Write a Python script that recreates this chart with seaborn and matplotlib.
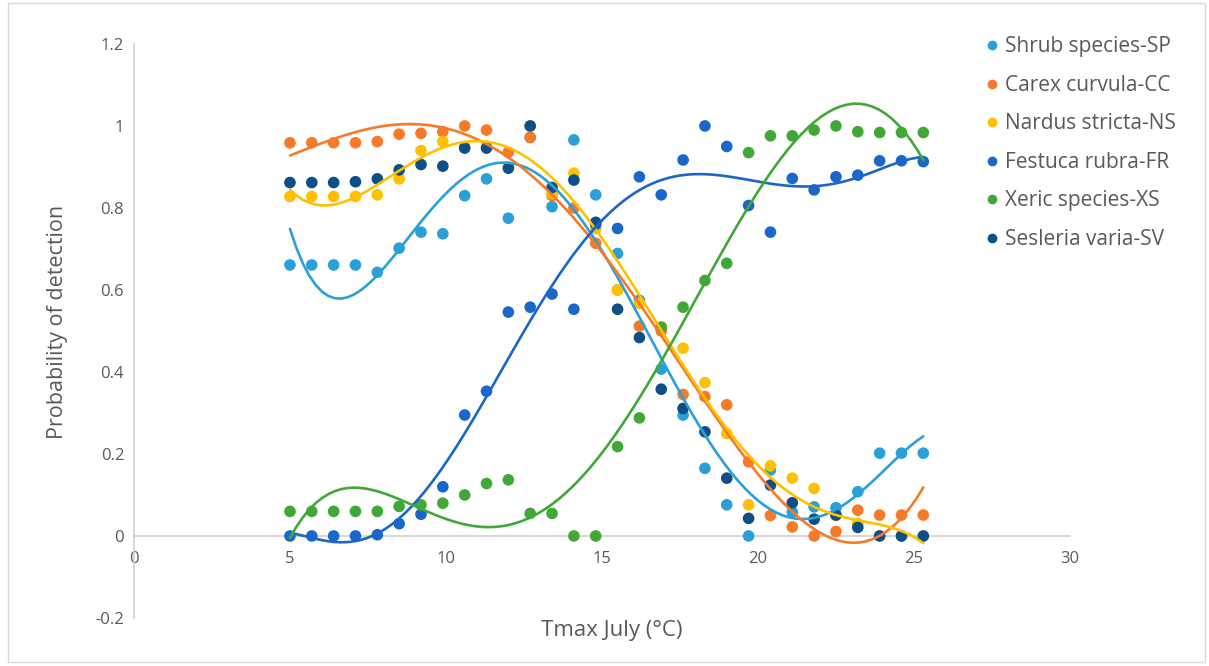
import warnings
import numpy as np
import pandas as pd
import matplotlib
matplotlib.use("Agg")
import matplotlib.pyplot as plt
from matplotlib.patches import Rectangle
from matplotlib.ticker import FuncFormatter
import seaborn as sns

warnings.filterwarnings("ignore")

# Maximum July temperature (°C) of each sampling class
tmax_july = [5.0, 5.7, 6.4, 7.1, 7.8, 8.5, 9.2, 9.9, 10.6, 11.3,
             12.0, 12.7, 13.4, 14.1, 14.8, 15.5, 16.2, 16.9, 17.6, 18.3,
             19.0, 19.7, 20.4, 21.1, 21.8, 22.5, 23.2, 23.9, 24.6, 25.3]

shrub_sp = [0.661, 0.661, 0.661, 0.661, 0.643, 0.702, 0.741, 0.737, 0.830, 0.871,
            0.775, 0.972, 0.803, 0.966, 0.832, 0.689, 0.575, 0.407, 0.295, 0.165,
            0.076, 0.000, 0.161, 0.058, 0.071, 0.069, 0.108, 0.202, 0.202, 0.202]

carex_cc = [0.959, 0.959, 0.959, 0.959, 0.962, 0.980, 0.982, 0.986, 1.000, 0.990,
            0.936, 0.972, 0.830, 0.800, 0.714, 0.600, 0.512, 0.500, 0.345, 0.340,
            0.320, 0.181, 0.050, 0.022, 0.000, 0.011, 0.063, 0.051, 0.051, 0.051]

nardus_ns = [0.828, 0.828, 0.828, 0.828, 0.832, 0.871, 0.940, 0.962, 0.950, 0.950,
             0.900, 1.000, 0.835, 0.885, 0.750, 0.600, 0.567, 0.510, 0.458, 0.374,
             0.250, 0.076, 0.171, 0.141, 0.116, 0.050, 0.030, 0.000, 0.000, 0.000]

festuca_fr = [0.000, 0.000, 0.000, 0.000, 0.003, 0.030, 0.053, 0.120, 0.295, 0.353,
              0.546, 0.558, 0.590, 0.553, 0.760, 0.750, 0.876, 0.832, 0.917, 1.000,
              0.950, 0.806, 0.741, 0.872, 0.844, 0.876, 0.880, 0.915, 0.915, 0.913]

xeric_xs = [0.060, 0.060, 0.060, 0.060, 0.060, 0.072, 0.076, 0.080, 0.100, 0.128,
            0.137, 0.055, 0.055, 0.000, 0.000, 0.218, 0.288, 0.509, 0.558, 0.623,
            0.665, 0.935, 0.976, 0.976, 0.990, 1.000, 0.986, 0.984, 0.984, 0.984]

sesleria_sv = [0.862, 0.862, 0.862, 0.864, 0.871, 0.893, 0.906, 0.902, 0.946, 0.946,
               0.897, 1.000, 0.850, 0.868, 0.765, 0.553, 0.484, 0.358, 0.311, 0.254,
               0.141, 0.043, 0.124, 0.081, 0.041, 0.051, 0.021, 0.000, 0.000, 0.000]

series_names = ["Shrub species-SP", "Carex curvula-CC", "Nardus stricta-NS",
                "Festuca rubra-FR", "Xeric species-XS", "Sesleria varia-SV"]
series_values = [shrub_sp, carex_cc, nardus_ns, festuca_fr, xeric_xs, sesleria_sv]
series_colors = ["#2A9FD8", "#F57A2A", "#FFC000", "#1A66C9", "#41A838", "#0D4F86"]

# polynomial order of each species' trend line (Sesleria has none)
trend_order = {"Shrub species-SP": 5, "Carex curvula-CC": 4, "Nardus stricta-NS": 6,
               "Festuca rubra-FR": 6, "Xeric species-XS": 5}

df = pd.concat(
    [pd.DataFrame({"tmax": tmax_july, "prob": vals, "species": name})
     for name, vals in zip(series_names, series_values)],
    ignore_index=True,
)

sns.set_theme(style="white")
plt.rcParams["font.family"] = ["Open Sans", "DejaVu Sans"]
text_grey = "#595959"
axis_grey = "#D0D0D0"

fig = plt.figure(figsize=(12.09, 6.66), dpi=100)
ax = fig.add_axes([0.1108, 0.0721, 0.7742, 0.8619])

palette = dict(zip(series_names, series_colors))
sns.scatterplot(data=df, x="tmax", y="prob", hue="species", hue_order=series_names,
                palette=palette, s=70, linewidth=0, ax=ax, zorder=3, legend=True)

for name, vals, col in zip(series_names, series_values, series_colors):
    if name in trend_order:
        sns.regplot(x=np.array(tmax_july), y=np.array(vals), order=trend_order[name],
                    ci=None, scatter=False, ax=ax,
                    line_kws=dict(color=col, lw=1.9, zorder=4))

ax.set_xlim(0, 30)
ax.set_ylim(-0.2, 1.2)
ax.set_xticks(np.arange(0, 31, 5))
ax.set_yticks(np.arange(-0.2, 1.21, 0.2))
ax.yaxis.set_major_formatter(FuncFormatter(lambda v, p: "%g" % round(v, 1)))

for side in ("top", "right"):
    ax.spines[side].set_visible(False)
ax.spines["bottom"].set_position(("data", 0))
ax.spines["bottom"].set_color(axis_grey)
ax.spines["left"].set_color(axis_grey)
ax.spines["bottom"].set_linewidth(1.2)
ax.spines["left"].set_linewidth(1.2)

ax.tick_params(axis="both", length=0, labelsize=12, colors=text_grey)
ax.tick_params(axis="x", pad=11)
ax.tick_params(axis="y", pad=7)

ax.set_xlabel("Tmax July (°C)", fontsize=16, color=text_grey)
ax.set_ylabel("Probability of detection", fontsize=15.5, color=text_grey)
ax.xaxis.set_label_coords(0.51, -0.003)
ax.yaxis.set_label_coords(-0.071, 0.516)

handles, labels = ax.get_legend_handles_labels()
ax.get_legend().remove()
for h in handles:
    h.set_markersize(7)
leg = fig.legend(handles, labels, loc="upper left", bbox_to_anchor=(0.806, 0.958),
                 frameon=False, fontsize=15, labelspacing=0.84, handletextpad=0.15,
                 handlelength=0.9, borderaxespad=0)
for t in leg.get_texts():
    t.set_color(text_grey)

fig.patches.append(Rectangle((0.0066, 0.006), 0.99, 0.99, transform=fig.transFigure,
                             fill=False, edgecolor="#D9D9D9", lw=1.0))

fig.savefig("out.png", dpi=100)
